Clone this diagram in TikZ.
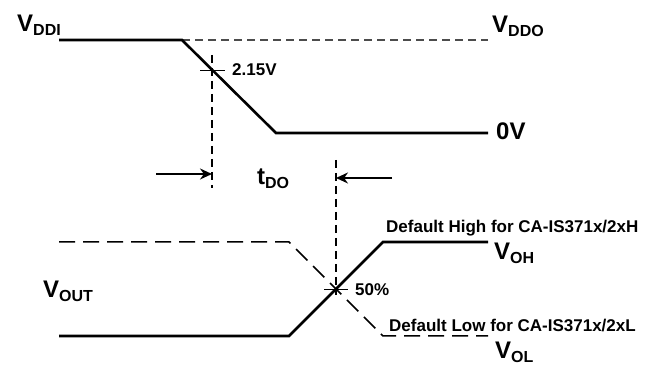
\documentclass[tikz,border=0pt]{standalone}
\usepackage{fontspec}
\setmainfont{Liberation Sans}
\usetikzlibrary{arrows.meta}
\newcommand\lvl[2]{#1\raisebox{-3.5pt}{\fontsize{16}{16}\selectfont #2}}

\begin{document}
\begin{tikzpicture}[x=1pt,y=-1pt,
    wave/.style={line width=2.6pt},
    guide/.style={line width=1.2pt,black!70,dash pattern=on 8pt off 5pt},
    alt/.style={line width=1.5pt,dash pattern=on 16pt off 8pt},
    tickline/.style={line width=0.8pt},
    timing/.style={line width=1.6pt,-{Stealth[length=12pt,width=11pt]}},
    big/.style={inner sep=0pt,anchor=base west,font=\bfseries\fontsize{24}{24}\selectfont},
    small/.style={inner sep=0pt,anchor=base west,font=\bfseries\fontsize{17}{17}\selectfont}]
    \useasboundingbox (0,0) rectangle (654,366);

    % input waveform
    \coordinate (I1) at (59,40);
    \coordinate (I2) at (182,40);
    \coordinate (I3) at (276,133);
    \coordinate (I4) at (488,133);
    \coordinate (I5) at (488,40);
    \coordinate (C1) at (212,70);

    % output waveform
    \coordinate (O1) at (59,336);
    \coordinate (O2) at (289,336);
    \coordinate (O3) at (383,242);
    \coordinate (O4) at (488,242);
    \coordinate (L1) at (59,242);
    \coordinate (L2) at (289,242);
    \coordinate (L3) at (383,336);
    \coordinate (L4) at (488,336);
    \coordinate (C2) at (336,289);

    % guide ends
    \coordinate (G1) at (212,55);
    \coordinate (G2) at (212,188);
    \coordinate (G3) at (336,160);
    \coordinate (G4) at (336,295);
    \coordinate (A1) at (156,174);
    \coordinate (A2) at (392,178);

    \node[big] (vddi) at (17,32) {\lvl{V}{DDI}};
    \node[big] (vddo) at (492,33) {\lvl{V}{DDO}};
    \node[big] (zero) at (496,140) {0V};
    \node[big] (tdo) at (257,185) {\lvl{t}{DO}};
    \node[big] (vout) at (43,298) {\lvl{V}{OUT}};
    \node[big] (voh) at (494,260) {\lvl{V}{OH}};
    \node[big] (vol) at (495,359) {\lvl{V}{OL}};
    \node[small] (thr) at (232,76) {2.15V};
    \node[small] (mid) at (355,296) {50\%};
    \node[small] (hi) at (386,233) {Default High for CA-IS371x/2xH};
    \node[small] (lo) at (389,332) {Default Low for CA-IS371x/2xL};

    \draw[guide] (I2)--(I5);
    \draw[wave] (I1)--(I2)--(I3)--(I4);

    \draw[alt] (L1)--(L2)--(L3)--(L4);
    \draw[wave] (O1)--(O2)--(O3)--(O4);

    \draw[guide,black] (G1)--(G2);
    \draw[guide,black] (G3)--(G4);
    \draw[tickline] ([xshift=-12pt]C1)--([xshift=13pt]C1);
    \draw[tickline] ([xshift=-12pt]C2)--([xshift=12pt]C2);

    \draw[timing] (A1)--(A1-|G1);
    \draw[timing] (A2)--(A2-|G3);
\end{tikzpicture}
\end{document}
